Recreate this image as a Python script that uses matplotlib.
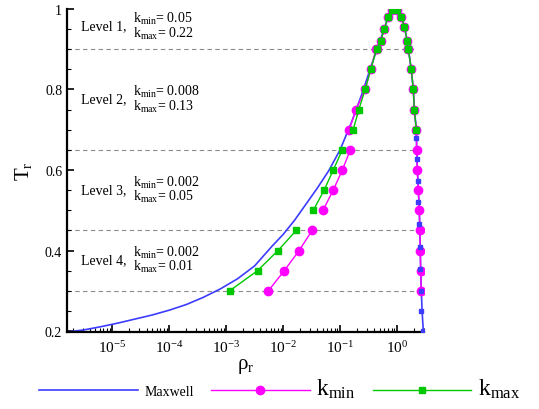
import matplotlib
matplotlib.use("Agg")
import matplotlib.pyplot as plt
from matplotlib.ticker import LogLocator, NullFormatter
import numpy as np

plt.rcParams['font.family'] = ['Liberation Serif', 'DejaVu Serif']
plt.rcParams['mathtext.fontset'] = 'custom'
plt.rcParams['mathtext.rm'] = 'Liberation Serif'
plt.rcParams['mathtext.it'] = 'Liberation Serif:italic'
plt.rcParams['mathtext.bf'] = 'Liberation Serif:bold'

# Maxwell construction (log10 rho_r, T_r)
maxwell_logrho = [-5.79, -5.5, -5.2, -4.9, -4.6, -4.3, -4.0, -3.7, -3.4, -3.1, -2.8, -2.5,
                  -2.2, -2.0, -1.8, -1.6, -1.4, -1.2, -1.0, -0.8, -0.6, -0.45, -0.35, -0.22,
                  -0.16, -0.08, 0.0, 0.076, 0.13, 0.18, 0.199, 0.25, 0.286, 0.304, 0.339,
                  0.345, 0.357, 0.374, 0.392, 0.40, 0.409, 0.415, 0.427, 0.44, 0.462]
maxwell_T = [0.198, 0.203, 0.211, 0.220, 0.230, 0.240, 0.252, 0.266, 0.284, 0.305, 0.330, 0.362,
             0.41, 0.44, 0.475, 0.515, 0.555, 0.598, 0.650, 0.718, 0.795, 0.860, 0.900, 0.952,
             0.978, 0.995, 1.0, 0.98, 0.955, 0.92, 0.90, 0.85, 0.80, 0.75, 0.70,
             0.65, 0.60, 0.55, 0.50, 0.45, 0.40, 0.35, 0.30, 0.25, 0.20]
# squares on the liquid branch
liq_logrho = [0.34, 0.357, 0.362, 0.374, 0.386, 0.397, 0.41, 0.427, 0.427, 0.457]
liq_T = [0.68, 0.627, 0.572, 0.52, 0.465, 0.41, 0.355, 0.30, 0.25, 0.20]

# level 1 (shared by both k)
lev1_logrho = [-0.35, -0.29, -0.22, -0.16, -0.08, 0.0, 0.076, 0.13, 0.18, 0.19]
lev1_T = [0.90, 0.92, 0.95, 0.98, 0.998, 0.998, 0.98, 0.955, 0.92, 0.90]

# left branches, levels 2-4
T_lev2 = [0.90, 0.85, 0.80, 0.75, 0.70]
T_lev3 = [0.65, 0.60, 0.55, 0.50]
T_lev4 = [0.45, 0.40, 0.35, 0.30]
kmin_lev2 = [-0.37, -0.46, -0.56, -0.72, -0.84]
kmin_lev3 = [-0.82, -0.96, -1.12, -1.30]
kmin_lev4 = [-1.49, -1.72, -1.98, -2.26]
kmax_lev2 = [-0.36, -0.46, -0.56, -0.67, -0.77]
kmax_lev3 = [-0.96, -1.12, -1.28, -1.47]
kmax_lev4 = [-1.77, -2.09, -2.45, -2.94]

# right branches
T_right = [0.90, 0.85, 0.80, 0.75, 0.70, 0.65, 0.60, 0.55, 0.50, 0.45, 0.40, 0.35, 0.30]
kmin_right = [0.199, 0.25, 0.286, 0.304, 0.339, 0.345, 0.357, 0.374, 0.392, 0.40, 0.409, 0.415, 0.427]
kmax_right = [0.199, 0.25, 0.286, 0.304, 0.339]

level_lines = [0.9, 0.65, 0.45, 0.3]
level_text = [("Level 1,", "0.05", "0.22", 0.958),
              ("Level 2,", "0.008", "0.13", 0.776),
              ("Level 3,", "0.002", "0.05", 0.552),
              ("Level 4,", "0.002", "0.01", 0.378)]

xtick_pos = [1e-5, 1e-4, 1e-3, 1e-2, 1e-1, 1e0]
xtick_lab = [r"10$^{-5}$", r"10$^{-4}$", r"10$^{-3}$", r"10$^{-2}$", r"10$^{-1}$", r"10$^{0}$"]

blue = "#3c3cff"
mag = "#ff00ff"
grn = "#00c800"


def r(v):
    return 10.0 ** np.array(v)


fig = plt.figure(figsize=(5.39, 4.10), dpi=100)
ax = fig.add_axes([0.1243, 0.188, 0.6627, 0.788])

for y in level_lines:
    ax.plot([1.6e-6, 2.0], [y, y], color="#8c8c8c", lw=0.8, ls=(0, (4, 3)), zorder=1)

ax.plot(r(maxwell_logrho), maxwell_T, color=blue, lw=1.2, zorder=2, label="Maxwell")
ax.plot(r(liq_logrho), liq_T, ls="none", marker="s", ms=3.5, color=blue, zorder=5)

mk = dict(marker="o", ms=6, color=mag, lw=1.0, zorder=3)
mq = dict(marker="s", ms=4.5, color=grn, lw=1.0, zorder=4)

ax.plot(r(lev1_logrho), lev1_T, **mk)
ax.plot(r(lev1_logrho), lev1_T, **mq)
ax.plot(r(kmin_lev2), T_lev2, **mk, label=r"k$_\mathrm{min}$")
ax.plot(r(kmin_lev3), T_lev3, **mk)
ax.plot(r(kmin_lev4), T_lev4, **mk)
ax.plot(r(kmin_right), T_right, **mk)
ax.plot(r(kmax_lev2), T_lev2, **mq, label=r"k$_\mathrm{max}$")
ax.plot(r(kmax_lev3), T_lev3, **mq)
ax.plot(r(kmax_lev4), T_lev4, **mq)
ax.plot(r(kmax_right), T_right[:len(kmax_right)], **mq)

tr = ax.get_yaxis_transform()
for lab, kmn, kmx, yc in level_text:
    ax.text(0.039, yc, lab, transform=tr, fontsize=10, va="center", ha="left")
    ax.text(0.185, yc + 0.019, r"k$_\mathrm{min}$= " + kmn, transform=tr, fontsize=10,
            va="center", ha="left")
    ax.text(0.185, yc - 0.017, r"k$_\mathrm{max}$= " + kmx, transform=tr, fontsize=10,
            va="center", ha="left")

ax.set_xscale("log")
ax.set_xlim(1.6e-6, 3.0)
ax.set_ylim(0.198, 1.0)
ax.set_xticks(xtick_pos)
ax.set_xticklabels(xtick_lab)
ax.xaxis.set_minor_locator(LogLocator(base=10, subs=np.arange(2, 10), numticks=20))
ax.xaxis.set_minor_formatter(NullFormatter())
ax.set_yticks([0.2, 0.4, 0.6, 0.8, 1.0])
ax.set_yticklabels(["0.2", "0.4", "0.6", "0.8", "1"])
ax.set_yticks(np.arange(0.25, 1.0, 0.05), minor=True)
ax.tick_params(direction="in", which="both", labelsize=10)
ax.tick_params(axis="x", labelsize=11, pad=5)
ax.tick_params(which="major", length=5, width=1.2)
ax.tick_params(which="minor", length=3, width=0.8)
ax.spines["top"].set_visible(False)
ax.spines["right"].set_visible(False)
ax.spines["left"].set_linewidth(1.6)
ax.spines["bottom"].set_linewidth(1.6)
ax.set_xlabel("ρ$_\\mathrm{r}$", fontsize=15, labelpad=1)
ax.set_ylabel("T$_\\mathrm{r}$", fontsize=15, labelpad=8)

handles, labels = ax.get_legend_handles_labels()
leg = fig.legend(handles, labels, loc="center", bbox_to_anchor=(0.519, 0.05), ncol=3,
                 frameon=False, handlelength=7.1, handletextpad=0.5, columnspacing=1.2,
                 numpoints=1, fontsize=10)
sizes = [10, 17, 17]
for t, s in zip(leg.get_texts(), sizes):
    t.set_fontsize(s)

fig.savefig("out.png", dpi=100)
